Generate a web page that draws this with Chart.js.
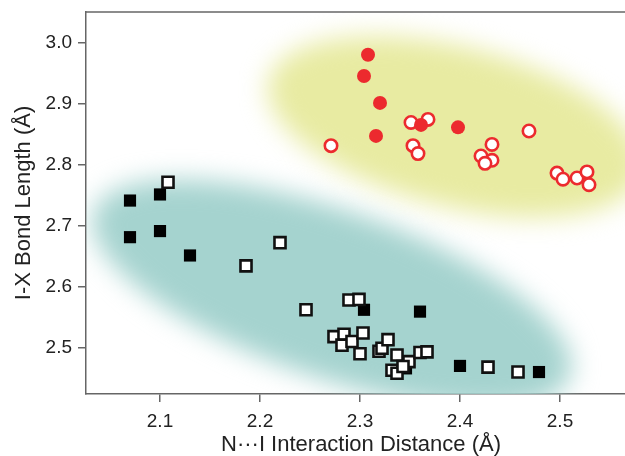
<!DOCTYPE html>
<html>
<head>
<meta charset="utf-8">
<script src="https://cdn.jsdelivr.net/npm/chart.js@4/dist/chart.umd.min.js"></script>
<style>
  html, body { margin: 0; padding: 0; background: #fff; overflow: hidden; }
</style>
</head>
<body>
<canvas id="chart" width="636" height="456"></canvas>
<script>
// red, filled circles
const redFilledX = [2.308, 2.304, 2.320, 2.316, 2.361, 2.398];
const redFilledY = [2.980, 2.945, 2.901, 2.847, 2.865, 2.861];

// red, open circles
const redOpenX = [2.271, 2.351, 2.368, 2.353, 2.358, 2.432, 2.421, 2.432, 2.425, 2.469, 2.497, 2.503, 2.517, 2.527, 2.529];
const redOpenY = [2.831, 2.869, 2.874, 2.831, 2.818, 2.833, 2.814, 2.807, 2.802, 2.855, 2.786, 2.776, 2.778, 2.788, 2.767];

// black, filled squares
const blackFilledX = [2.070, 2.070, 2.100, 2.100, 2.130, 2.304, 2.360, 2.400, 2.479, 2.346];
const blackFilledY = [2.741, 2.681, 2.751, 2.691, 2.651, 2.562, 2.559, 2.470, 2.460, 2.466];

// black, open squares
const blackOpenX = [2.108, 2.220, 2.186, 2.246, 2.289, 2.299,
                    2.274, 2.284, 2.282, 2.292, 2.303, 2.300,
                    2.319, 2.322, 2.328, 2.337, 2.349, 2.360, 2.367, 2.332, 2.337, 2.343,
                    2.428, 2.458];
const blackOpenY = [2.771, 2.672, 2.634, 2.562, 2.578, 2.579,
                    2.518, 2.522, 2.504, 2.510, 2.524, 2.490,
                    2.494, 2.499, 2.513, 2.488, 2.477, 2.492, 2.493, 2.463, 2.458, 2.469,
                    2.468, 2.460];

const xTicks = [2.1, 2.2, 2.3, 2.4, 2.5];
const yTicks = [2.5, 2.6, 2.7, 2.8, 2.9, 3.0];

const pts = (xs, ys) => xs.map((x, i) => ({ x: x, y: ys[i] }));

const FONT = "'Liberation Sans', Arial, sans-serif";
const AXIS = "#666";
const RED = "#ec2a2e";

// soft background blobs (center in data units, size in px)
const blobs = [
    { cx: 2.395, cy: 2.862, rx: 192, ry: 80, angle: 14, color: "#e8eba2" },
    { cx: 2.272, cy: 2.588, rx: 252, ry: 84, angle: 19, color: "#a5d3cf" }
];

const blobPlugin = {
    id: "blobs",
    beforeDatasetsDraw(chart) {
        const { ctx, chartArea, scales } = chart;
        ctx.save();
        ctx.beginPath();
        ctx.rect(chartArea.left, chartArea.top, chartArea.right - chartArea.left, chartArea.bottom - chartArea.top);
        ctx.clip();
        ctx.filter = "blur(13px)";
        blobs.forEach(b => {
            ctx.fillStyle = b.color;
            ctx.beginPath();
            ctx.ellipse(scales.x.getPixelForValue(b.cx), scales.y.getPixelForValue(b.cy),
                        b.rx, b.ry, b.angle * Math.PI / 180, 0, Math.PI * 2);
            ctx.fill();
        });
        ctx.restore();
    },
    afterDraw(chart) {
        // top frame line
        const { ctx, chartArea } = chart;
        ctx.save();
        ctx.strokeStyle = AXIS;
        ctx.lineWidth = 1.5;
        ctx.beginPath();
        ctx.moveTo(chartArea.left, chartArea.top);
        ctx.lineTo(chartArea.right, chartArea.top);
        ctx.stroke();
        ctx.restore();
    }
};

new Chart(document.getElementById("chart"), {
    type: "scatter",
    data: {
        datasets: [
            {
                data: pts(redFilledX, redFilledY),
                pointStyle: "circle",
                pointRadius: 7,
                backgroundColor: RED,
                borderColor: RED,
                borderWidth: 0,
                order: 0
            },
            {
                data: pts(redOpenX, redOpenY),
                pointStyle: "circle",
                pointRadius: 6.2,
                backgroundColor: "#fff",
                borderColor: RED,
                borderWidth: 2.6,
                order: 1
            },
            {
                data: pts(blackOpenX, blackOpenY),
                pointStyle: "rect",
                pointRadius: 7.8,
                backgroundColor: "#fff",
                borderColor: "#111",
                borderWidth: 2.6,
                order: 2
            },
            {
                data: pts(blackFilledX, blackFilledY),
                pointStyle: "rect",
                pointRadius: 8.6,
                backgroundColor: "#000",
                borderColor: "#000",
                borderWidth: 0,
                order: 3
            }
        ]
    },
    options: {
        responsive: false,
        animation: false,
        devicePixelRatio: 1,
        layout: { autoPadding: false, padding: { top: 12, right: 0, left: 0, bottom: 0 } },
        plugins: {
            legend: { display: false },
            tooltip: { enabled: false }
        },
        scales: {
            x: {
                type: "linear",
                min: 2.026,
                max: 2.576,
                afterBuildTicks: scale => { scale.ticks = xTicks.map(v => ({ value: v })); },
                afterFit: scale => {
                    scale.height = 62;
                    scale.paddingLeft = 0;
                    scale.paddingRight = 0;
                },
                grid: { drawOnChartArea: false, color: AXIS, tickLength: 8, lineWidth: 1.5 },
                border: { color: AXIS, width: 1.5 },
                ticks: {
                    padding: 8,
                    color: "#222",
                    font: { family: FONT, size: 19 },
                    callback: v => v.toFixed(1)
                },
                title: {
                    display: true,
                    text: "N\u00B7\u00B7\u00B7I Interaction Distance (\u00C5)",
                    color: "#222",
                    font: { family: FONT, size: 22, lineHeight: 1 },
                    padding: { top: 0, bottom: 0 }
                }
            },
            y: {
                type: "linear",
                min: 2.424,
                max: 3.050,
                afterBuildTicks: scale => { scale.ticks = yTicks.map(v => ({ value: v })); },
                afterFit: scale => {
                    scale.width = 86;
                    scale.paddingTop = 0;
                    scale.paddingBottom = 0;
                },
                grid: { drawOnChartArea: false, color: AXIS, tickLength: 8, lineWidth: 1.5 },
                border: { color: AXIS, width: 1.5 },
                ticks: {
                    padding: 6,
                    color: "#222",
                    font: { family: FONT, size: 19 },
                    callback: v => v.toFixed(1)
                },
                title: {
                    display: true,
                    text: "I-X Bond Length (\u00C5)",
                    color: "#222",
                    font: { family: FONT, size: 22, lineHeight: 1 },
                    padding: { top: 13, bottom: 0 }
                }
            }
        }
    },
    plugins: [blobPlugin]
});
</script>
</body>
</html>
